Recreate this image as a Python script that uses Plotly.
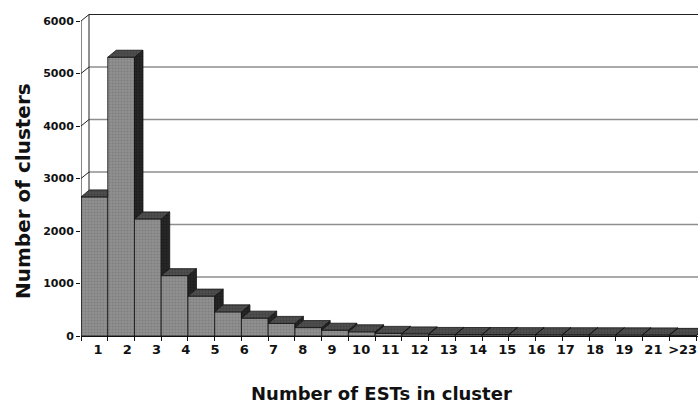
import numpy as np
import plotly.graph_objects as go

# ---- data ----
categories = [str(i) for i in range(1, 23)] + [">23"]
clusters = [2650, 5310, 2230, 1150, 760, 460, 340, 240, 160, 110, 80, 50,
            40, 30, 28, 27, 26, 25, 24, 23, 22, 21, 12]
tick_labels = ["1", "2", "3", "4", "5", "6", "7", "8", "9", "10", "11", "12",
               "13", "14", "15", "16", "17", "18", "19", "21", ">23"]
y_ticks = [0, 1000, 2000, 3000, 4000, 5000, 6000]

# ---- geometry / style ----
W, H = 698, 404
ML, MR, MT, MB = 81, 0, 10, 68
plot_w = W - ML - MR
plot_h = H - MT - MB
px_per_bar = 26.74
px_per_unit = 0.0525
x_range = [-0.5, -0.5 + plot_w / px_per_bar]
y_range = [0, plot_h / px_per_unit]

# depth offsets (3-D look) in data units
dxb, dyb = 8.5 / px_per_bar, 7.0 / px_per_unit      # bars
dxw, dyw = 8.0 / px_per_bar, 6.5 / px_per_unit      # walls

FRONT = "#909090"
TOP = "#4e4e4e"
SIDE = "#262626"
FONT = "DejaVu Sans"

n = len(clusters)
xs = list(range(n))

# build visible top and side faces from data
top_x, top_y, side_x, side_y = [], [], [], []
for i, v in enumerate(clusters):
    L, R = i - 0.5, i + 0.5
    nxt = clusters[i + 1] if i + 1 < n else 0
    if nxt > v:
        top_x += [L, R, R, L + dxb, L, None]
        top_y += [v, v, v + dyb, v + dyb, v, None]
    else:
        top_x += [L, R, R + dxb, L + dxb, L, None]
        top_y += [v, v, v + dyb, v + dyb, v, None]
    if v > nxt:
        zl = nxt
        side_x += [R, R, R + dxb, R + dxb, R, None]
        side_y += [zl, v, v + dyb, zl + dyb, zl, None]

fig = go.Figure()
fig.add_trace(go.Bar(
    x=xs, y=clusters, width=1.0,
    marker=dict(color=FRONT, line=dict(color="#111111", width=0.8),
                pattern=dict(shape=".", fgcolor="#6a6a6a", size=3, solidity=0.35)),
    hoverinfo="skip", showlegend=False,
))
fig.add_trace(go.Scatter(
    x=side_x, y=side_y, mode="lines", fill="toself", fillcolor=SIDE,
    fillpattern=dict(shape=".", fgcolor="#111111", bgcolor=SIDE, size=3, solidity=0.3),
    line=dict(color="#111111", width=0.8), hoverinfo="skip", showlegend=False,
))
fig.add_trace(go.Scatter(
    x=top_x, y=top_y, mode="lines", fill="toself", fillcolor=TOP,
    fillpattern=dict(shape=".", fgcolor="#333333", bgcolor=TOP, size=3, solidity=0.35),
    line=dict(color="#111111", width=0.8), hoverinfo="skip", showlegend=False,
))

shapes = []
# back-wall gridlines
for v in y_ticks:
    shapes.append(dict(type="line", xref="x", yref="y", layer="below",
                       x0=-0.5 + dxw, x1=x_range[1] + 1, y0=v + dyw, y1=v + dyw,
                       line=dict(color="#222222" if v == y_ticks[-1] else "#8e8e8e",
                                 width=1.0 if v == y_ticks[-1] else 1.4)))
    # side-wall connectors
    shapes.append(dict(type="line", xref="x", yref="y", layer="below",
                       x0=-0.5, x1=-0.5 + dxw, y0=v, y1=v + dyw,
                       line=dict(color="#222222", width=1.0)))
# back-wall left edge
shapes.append(dict(type="line", xref="x", yref="y", layer="below",
                   x0=-0.5 + dxw, x1=-0.5 + dxw, y0=dyw, y1=y_ticks[-1] + dyw,
                   line=dict(color="#222222", width=1.0)))
# front value-axis line
shapes.append(dict(type="line", xref="x", yref="y", layer="above",
                   x0=-0.5, x1=-0.5, y0=0, y1=y_ticks[-1],
                   line=dict(color="#111111", width=1.0)))

label_pos = list(np.linspace(0.14, 22.0, len(tick_labels)))

fig.update_layout(
    width=W, height=H,
    margin=dict(l=ML, r=MR, t=MT, b=MB),
    paper_bgcolor="white", plot_bgcolor="white",
    bargap=0, showlegend=False,
    font=dict(family=FONT, color="#111111"),
    shapes=shapes,
    xaxis=dict(range=x_range, tickvals=[k - 0.5 for k in range(n + 1)],
               ticktext=[""] * (n + 1), ticks="outside", ticklen=4,
               tickcolor="#111111", showgrid=False, zeroline=False,
               showline=True, linecolor="#111111", linewidth=1),
    xaxis2=dict(overlaying="x", anchor="y", side="bottom", range=x_range,
                tickvals=label_pos, ticktext=tick_labels, ticks="",
                ticklabelstandoff=4,
                showgrid=False, zeroline=False, showline=False,
                tickfont=dict(family=FONT, size=13, weight="bold", color="#111111")),
    yaxis=dict(range=y_range, tickvals=y_ticks, ticks="outside", ticklen=4,
               tickcolor="#111111", showgrid=False, zeroline=False, showline=False,
               tickfont=dict(family=FONT, size=11, weight="bold", color="#111111")),
    annotations=[
        dict(text="Number of ESTs in cluster", xref="paper", yref="paper",
             x=(381 - ML) / plot_w, y=(MT + plot_h - 393) / plot_h,
             xanchor="center", yanchor="middle", showarrow=False,
             font=dict(family=FONT, size=18, weight="bold", color="#111111")),
        dict(text="Number of clusters", xref="paper", yref="paper",
             x=(23 - ML) / plot_w, y=(MT + plot_h - 191) / plot_h,
             xanchor="center", yanchor="middle", textangle=-90, showarrow=False,
             font=dict(family=FONT, size=20, weight="bold", color="#111111")),
    ],
)
# dummy invisible trace so xaxis2 is drawn
fig.add_trace(go.Scatter(x=[0], y=[0], xaxis="x2", mode="markers",
                         marker=dict(opacity=0), hoverinfo="skip", showlegend=False))

fig.write_html("out.html", config={"displayModeBar": False, "staticPlot": True},
               post_script="document.body.style.margin='0';document.body.style.overflow='hidden';")
